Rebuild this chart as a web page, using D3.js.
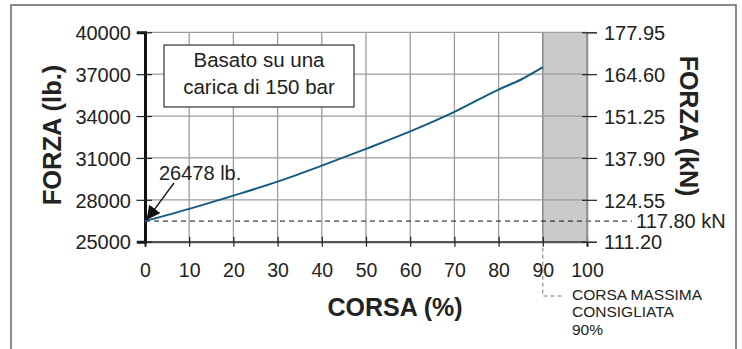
<!DOCTYPE html>
<html>
<head>
<meta charset="utf-8">
<script src="https://cdn.jsdelivr.net/npm/d3@7"></script>
<style>
  html, body { margin: 0; padding: 0; background: #fff; }
  svg { display: block; font-family: "Liberation Sans", Arial, Helvetica, sans-serif; }
</style>
</head>
<body>
<svg id="chart" width="742" height="349"></svg>
<script>
// Stroke (%) and force (lb.) along the cylinder travel
const strokePct = [0, 10, 20, 30, 40, 50, 60, 70, 80, 85, 90];
const forceLb   = [26478, 27350, 28300, 29300, 30450, 31650, 32900, 34300, 35900, 36600, 37500];

const xTicks   = [0, 10, 20, 30, 40, 50, 60, 70, 80, 90, 100];
const lbTicks  = [25000, 28000, 31000, 34000, 37000, 40000];
const kNTicks  = [111.20, 124.55, 137.90, 151.25, 164.60, 177.95];

const startForceLb = 26478;
const startForceKN = 117.80;
const maxStroke = 90;

const svg = d3.select("#chart");
const plotL = 145, plotR = 587, plotT = 32.3, plotB = 241.7;

const x = d3.scaleLinear().domain([0, 100]).range([plotL, plotR]);
const yLb = d3.scaleLinear().domain([25000, 40000]).range([plotB, plotT]);
const yKN = d3.scaleLinear().domain([111.20, 177.95]).range([plotB, plotT]);

// outer frame
svg.append("path")
  .attr("d", `M11,349 V5 H736 V349`)
  .attr("fill", "none").attr("stroke", "#666").attr("stroke-width", 1.5);

// recommended-max shaded zone
svg.append("rect")
  .attr("x", x(maxStroke)).attr("y", plotT)
  .attr("width", x(100) - x(maxStroke)).attr("height", plotB - plotT)
  .attr("fill", "#c9cacc");

// grid
const grid = svg.append("g").attr("stroke", "#9d9d9d").attr("stroke-width", 1.3);
grid.selectAll(".vg").data(xTicks.filter(d => d > 0))
  .join("line")
  .attr("x1", d => x(d)).attr("x2", d => x(d))
  .attr("y1", plotT).attr("y2", plotB)
  .attr("stroke", d => (d === 90 || d === 100) ? "#8f8f8f" : "#9d9d9d")
  .attr("stroke-width", d => (d === 90 || d === 100) ? 1.6 : 1.3);
grid.selectAll(".hg").data(lbTicks.filter(d => d > 25000))
  .join("line")
  .attr("x1", plotL).attr("x2", plotR)
  .attr("y1", d => yLb(d)).attr("y2", d => yLb(d));

// info box
svg.append("rect")
  .attr("x", 164).attr("y", 45).attr("width", 190).attr("height", 62)
  .attr("fill", "#fff").attr("stroke", "#333").attr("stroke-width", 1.2);
const boxText = svg.append("text")
  .attr("text-anchor", "middle").attr("font-size", 20.5).attr("fill", "#222");
boxText.append("tspan").attr("x", 259).attr("y", 67).text("Basato su una");
boxText.append("tspan").attr("x", 259).attr("y", 94).text("carica di 150 bar");

// dashed reference at the initial force
svg.append("line")
  .attr("x1", plotL).attr("x2", 632)
  .attr("y1", yLb(startForceLb)).attr("y2", yLb(startForceLb))
  .attr("stroke", "#111").attr("stroke-width", 1).attr("stroke-dasharray", "5,4");

// bottom axis
const xAxis = svg.append("g")
  .attr("transform", `translate(0,${plotB})`)
  .call(d3.axisBottom(x).tickValues(xTicks).tickSize(5).tickFormat(d3.format("d")));
xAxis.select(".domain").attr("stroke", "#555").attr("stroke-width", 2.2);
xAxis.selectAll(".tick line").attr("y1", -5).attr("y2", 5).attr("stroke", "#222").attr("stroke-width", 1.2);
xAxis.selectAll(".tick text")
  .attr("y", 35).attr("dy", null).attr("font-size", 19.5).attr("fill", "#222");

// left axis (lb.)
const yAxisL = svg.append("g")
  .attr("transform", `translate(${plotL},0)`)
  .call(d3.axisLeft(yLb).tickValues(lbTicks).tickSize(8).tickFormat(d3.format("d")));
yAxisL.select(".domain").attr("stroke", "#111").attr("stroke-width", 3);
yAxisL.selectAll(".tick line").attr("x1", -8.5).attr("x2", 7).attr("stroke", "#222").attr("stroke-width", 1.2);
yAxisL.selectAll(".tick text")
  .attr("x", -14).attr("dy", "0.36em").attr("font-size", 20).attr("fill", "#222");

// right axis (kN)
const yAxisR = svg.append("g")
  .attr("transform", `translate(${plotR},0)`)
  .call(d3.axisRight(yKN).tickValues(kNTicks).tickSize(10).tickFormat(d3.format(".2f")));
yAxisR.select(".domain").attr("stroke", "#8f8f8f").attr("stroke-width", 1.6);
yAxisR.selectAll(".tick line").attr("x1", -5).attr("x2", 10).attr("stroke", "#222").attr("stroke-width", 1.2);
yAxisR.selectAll(".tick text")
  .attr("x", 17).attr("dy", "0.36em").attr("font-size", 20).attr("fill", "#222");

// force curve
const pts = strokePct.map((s, i) => [s, forceLb[i]]);
svg.append("path")
  .datum(pts)
  .attr("fill", "none").attr("stroke", "#155a85").attr("stroke-width", 2)
  .attr("d", d3.line().x(d => x(d[0])).y(d => yLb(d[1])).curve(d3.curveMonotoneX));

// starting force annotation with arrow
svg.append("defs").append("marker")
  .attr("id", "arrowHead").attr("viewBox", "0 0 10 10")
  .attr("refX", 10).attr("refY", 5)
  .attr("markerWidth", 14).attr("markerHeight", 14)
  .attr("markerUnits", "userSpaceOnUse")
  .attr("orient", "auto")
  .append("path").attr("d", "M0,0 L10,5 L0,10 z").attr("fill", "#111");
svg.append("line")
  .attr("x1", 174).attr("y1", 183)
  .attr("x2", x(0) + 1.5).attr("y2", yLb(startForceLb) - 1)
  .attr("stroke", "#111").attr("stroke-width", 1.3)
  .attr("marker-end", "url(#arrowHead)");
svg.append("text")
  .attr("x", 159).attr("y", 179.5).attr("font-size", 20).attr("fill", "#222")
  .text(`${startForceLb} lb.`);

// kN value of the reference line
svg.append("text")
  .attr("x", 636).attr("y", yLb(startForceLb)).attr("dy", "0.36em")
  .attr("font-size", 20).attr("fill", "#222")
  .text(`${startForceKN.toFixed(2)} kN`);

// axis titles
svg.append("text")
  .attr("transform", `translate(61,135) rotate(-90)`)
  .attr("text-anchor", "middle").attr("font-size", 25.5).attr("font-weight", "bold").attr("fill", "#222")
  .text("FORZA (lb.)");
svg.append("text")
  .attr("transform", `translate(680,126) rotate(90)`)
  .attr("text-anchor", "middle").attr("font-size", 25).attr("font-weight", "bold").attr("fill", "#222")
  .text("FORZA (kN)");
svg.append("text")
  .attr("x", 395).attr("y", 316)
  .attr("text-anchor", "middle").attr("font-size", 25).attr("font-weight", "bold").attr("fill", "#222")
  .text("CORSA (%)");

// max-stroke leader and note
svg.append("path")
  .attr("d", `M${x(maxStroke)},${plotB + 6} V296 H564`)
  .attr("fill", "none").attr("stroke", "#777").attr("stroke-width", 1)
  .attr("stroke-dasharray", "4,3");
const note = svg.append("text").attr("font-size", 15.5).attr("fill", "#222");
note.append("tspan").attr("x", 572).attr("y", 299.5).text("CORSA MASSIMA");
note.append("tspan").attr("x", 572).attr("y", 317).text("CONSIGLIATA");
note.append("tspan").attr("x", 572).attr("y", 335).text(`${maxStroke}%`);
</script>
</body>
</html>
